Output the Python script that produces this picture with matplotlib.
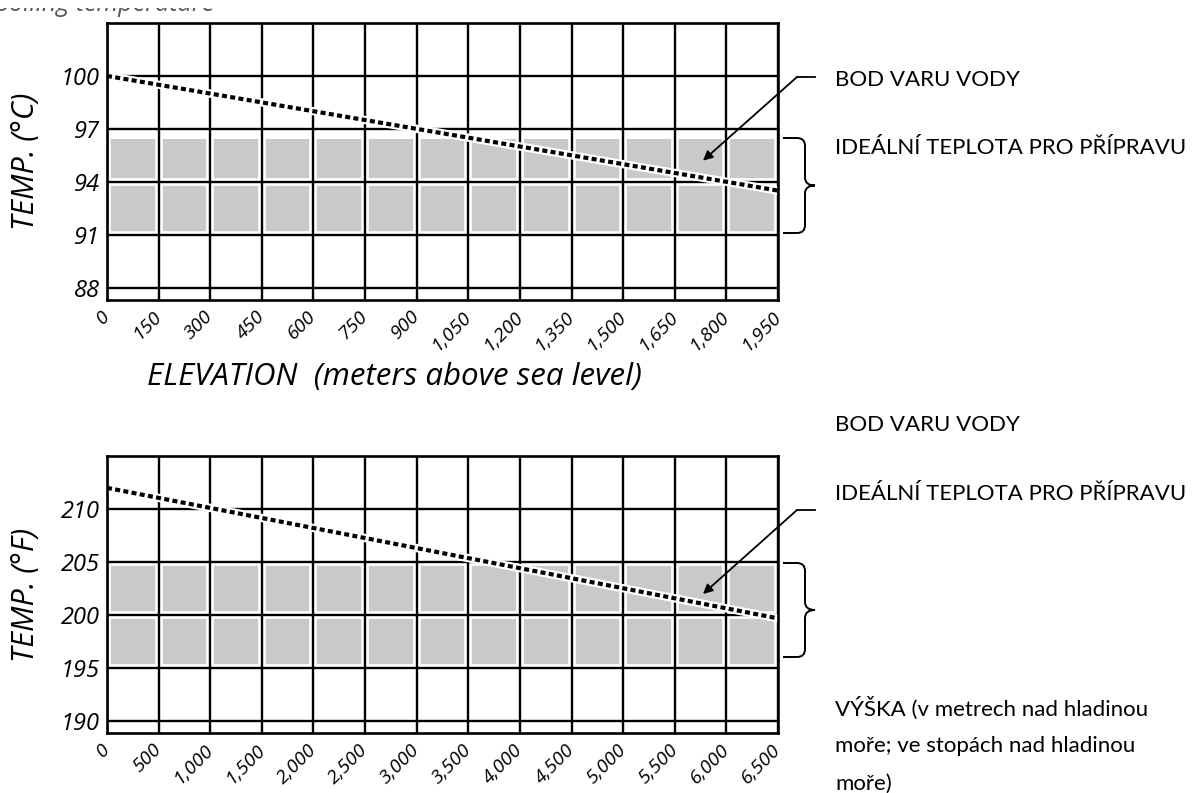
import matplotlib
matplotlib.use('Agg')
import matplotlib.pyplot as plt
import matplotlib.transforms as mtransforms
from matplotlib.path import Path
from matplotlib.patches import PathPatch, Rectangle
from matplotlib.lines import Line2D

# top chart: boiling point in celsius vs elevation in meters
elev_m = [0, 1950]
boil_c = [100.0, 93.5]
ticks_m = list(range(0, 1951, 150))
temp_ticks_c = [88, 91, 94, 97, 100]
ideal_c = [91.0, 96.4]

# bottom chart: boiling point in fahrenheit vs elevation in feet
elev_ft = [0, 6500]
boil_f = [212.0, 199.7]
ticks_ft = list(range(0, 6501, 500))
temp_ticks_f = [190, 195, 200, 205, 210]
ideal_f = [195.0, 205.0]

label_boil = 'BOD VARU VODY'
label_ideal = 'IDEÁLNÍ TEPLOTA PRO PŘÍPRAVU'
label_height = ['VÝŠKA (v metrech nad hladinou', 'moře; ve stopách nad hladinou', 'moře)']

W, H = 1195, 793
CHART_FONT = ['Open Sans', 'DejaVu Sans']
NOTE_FONT = ['Lato', 'Noto Sans', 'DejaVu Sans']

fig = plt.figure(figsize=(W / 100, H / 100), dpi=100)
fig.patch.set_facecolor('white')
# pixel coords measured from the top-left corner
px = mtransforms.Affine2D().scale(1 / W, -1 / H).translate(0, 1) + fig.transFigure


def px_box(left, top, right, bottom):
    return [left / W, 1 - bottom / H, (right - left) / W, (bottom - top) / H]


def draw_panel(ax, xs, ys, xticks, yticks, band, ylim, ylabel):
    ax.set_xlim(xticks[0], xticks[-1])
    ax.set_ylim(*ylim)
    ax.axhspan(band[0], band[1], color='#c9c9c9', lw=0, zorder=1)
    # grid lines with a white halo, like the printed chart
    for x in xticks:
        ax.axvline(x, color='white', lw=5.5, zorder=2)
        ax.axvline(x, color='black', lw=1.7, zorder=3)
    for y in yticks:
        ax.axhline(y, color='white', lw=5.5, zorder=2)
        ax.axhline(y, color='black', lw=1.7, zorder=3)
    ax.plot(xs, ys, color='white', lw=6, solid_capstyle='butt', zorder=4)
    ax.plot(xs, ys, color='black', lw=3.0, ls=(0, (1.2, 0.8)), zorder=5)

    for s in ax.spines.values():
        s.set_linewidth(1.9)
        s.set_zorder(6)

    ax.set_yticks(yticks)
    ax.set_yticklabels([str(v) for v in yticks], fontsize=17, style='italic', family=CHART_FONT)
    ax.set_xticks(xticks)
    ax.set_xticklabels([f'{v:,}' for v in xticks], fontsize=14, style='italic', family=CHART_FONT,
                       rotation=45, ha='right', va='center', rotation_mode='anchor')
    ax.tick_params(axis='y', length=0, pad=5)
    ax.tick_params(axis='x', length=0, pad=10)
    ax.set_ylabel(ylabel, fontsize=22, style='italic', family=CHART_FONT, va='center')
    ax.yaxis.set_label_coords(-0.121, 0.5)


def brace(top, bot, x0=783, x1=805, x2=815):
    mid = (top + bot) / 2
    verts = [(x0, top), (x1 - 8, top), (x1, top), (x1, top + 8), (x1, mid - 8),
             (x1, mid), (x2, mid), (x1, mid), (x1, mid + 8), (x1, bot - 8),
             (x1, bot), (x1 - 8, bot), (x0, bot)]
    codes = [Path.MOVETO, Path.LINETO, Path.CURVE3, Path.CURVE3, Path.LINETO,
             Path.CURVE3, Path.CURVE3, Path.CURVE3, Path.CURVE3, Path.LINETO,
             Path.CURVE3, Path.CURVE3, Path.LINETO]
    fig.add_artist(PathPatch(Path(verts, codes), transform=px, fill=False, lw=1.4, edgecolor='black'))


def pointer(ax, target, elbow_y):
    ax.annotate('', xy=target, xycoords='data', xytext=(797, elbow_y), textcoords=px,
                arrowprops=dict(arrowstyle='-|>', color='black', lw=1.3, shrinkA=0, shrinkB=0,
                                mutation_scale=14), annotation_clip=False, zorder=7)
    fig.add_artist(Line2D([797, 815], [elbow_y, elbow_y], transform=px, color='black', lw=1.3))


ax1 = fig.add_axes(px_box(107, 23, 778, 300))
draw_panel(ax1, elev_m, boil_c, ticks_m, temp_ticks_c, ideal_c, (87.3, 103.0), 'TEMP. (°C)')
ax1.text(0.428, -0.278, 'ELEVATION  (meters above sea level)', transform=ax1.transAxes,
         fontsize=22.5, style='italic', family=CHART_FONT, ha='center', va='center')

ax2 = fig.add_axes(px_box(107, 456, 778, 733))
draw_panel(ax2, elev_ft, boil_f, ticks_ft, temp_ticks_f, ideal_f, (188.9, 215.0), 'TEMP. (°F)')

# caption of the scan, cropped at the top edge so only its lower part shows
fig.text(-6, 11, 'Boiling temperature', transform=px, fontsize=18, style='italic',
         family=CHART_FONT, color='#555555', va='baseline')
fig.add_artist(Rectangle((0, 0), 300, 8, transform=px, color='white', lw=0, zorder=10))

# callouts on the right
pointer(ax1, (1732, 95.2), 77)
brace(138, 233)
pointer(ax2, (5773, 202.0), 510)
brace(563, 657)

fig.text(835, 80, label_boil, transform=px, fontsize=16, family=NOTE_FONT, va='center')
fig.text(835, 148, label_ideal, transform=px, fontsize=16, family=NOTE_FONT, va='center')
fig.text(835, 425, label_boil, transform=px, fontsize=16, family=NOTE_FONT, va='center')
fig.text(835, 494, label_ideal, transform=px, fontsize=16, family=NOTE_FONT, va='center')
for i, line in enumerate(label_height):
    fig.text(835, 708 + 38 * i, line, transform=px, fontsize=16, family=NOTE_FONT, va='center')

fig.savefig('out.png', dpi=100)
